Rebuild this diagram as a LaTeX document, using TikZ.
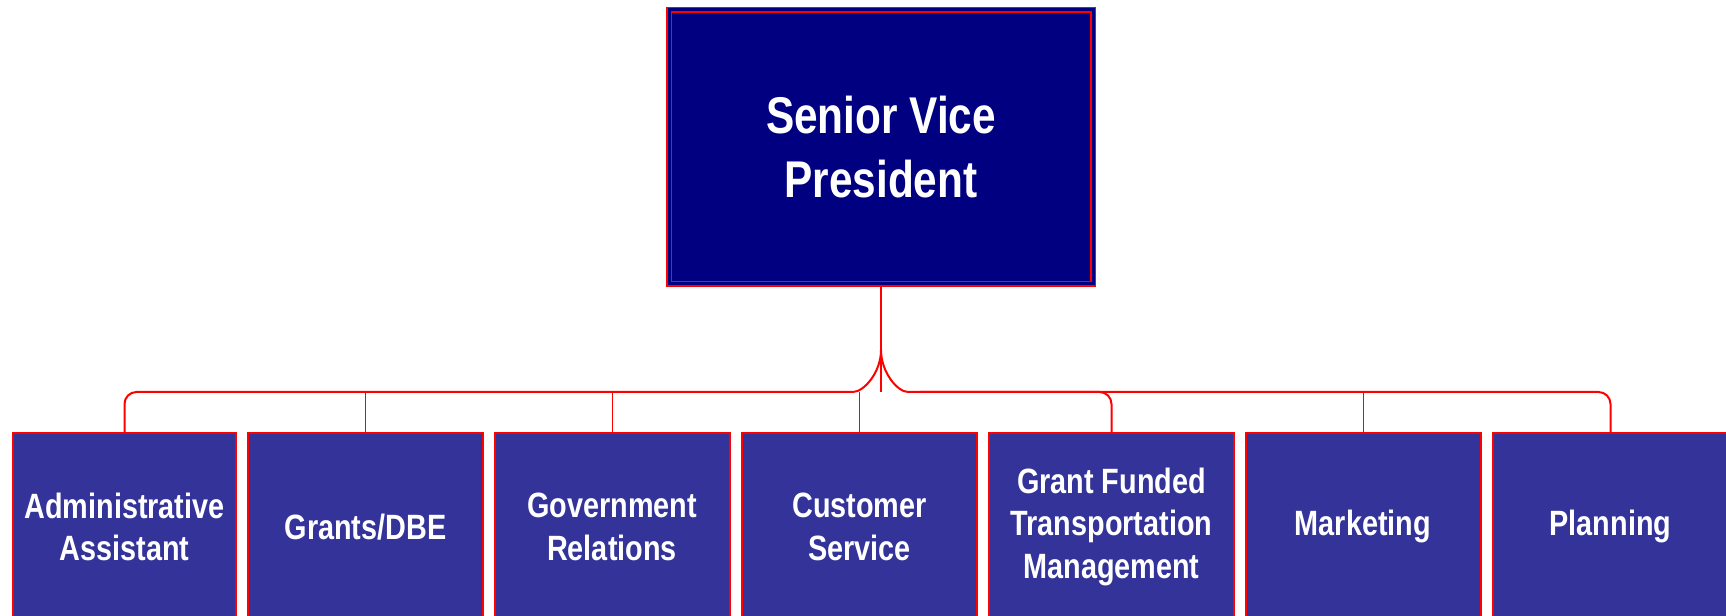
\documentclass[tikz,border=0pt]{standalone}
\usepackage{fontspec}
\setmainfont{Liberation Sans}[FakeStretch=0.82]
\usepackage{tikz}
\usetikzlibrary{positioning}
\definecolor{svpblue}{HTML}{000080}
\definecolor{unitblue}{HTML}{333399}
\tikzset{
	head/.style={draw=red, double=svpblue, double distance=0.03cm, line width=0.015cm,
		fill=svpblue, text=white, align=center, inner sep=0pt,
		minimum width=4.24cm, minimum height=2.74cm,
		font=\fontsize{14.7}{18}\selectfont\bfseries},
	unit/.style={draw=red, line width=0.02cm, fill=unitblue, text=white, align=center,
		inner sep=0pt, minimum width=2.35cm, minimum height=1.88cm,
		font=\fontsize{10}{12.2}\selectfont\bfseries},
	trunk/.style={red, line width=0.02cm, rounded corners=0.12cm},
	twig/.style={red, line width=0.01cm}
}

\begin{document}
\begin{tikzpicture}
	\useasboundingbox (0,0) rectangle (17.26,6.16);
	\clip (0,0) rectangle (17.26,6.16);

	\node[head] (svp) at (8.81, 4.69) {Senior Vice\\President};

	\node[unit, minimum width=2.23cm] (admin) at (1.245, 0.89) {Administrative\\Assistant};
	\node[unit] (grants) at (3.655, 0.89) {Grants/DBE};
	\node[unit] (govt) at (6.12, 0.89) {Government\\Relations};
	\node[unit] (cust) at (8.595, 0.89) {Customer\\Service};
	\node[unit, minimum width=2.45cm] (gft) at (11.115, 0.89) {Grant Funded\\Transportation\\Management};
	\node[unit] (mkt) at (13.63, 0.89) {Marketing};
	\node[unit] (plan) at (16.105, 0.89) {Planning};

	\coordinate (fork) at (8.81, 2.66);
	\coordinate (hub) at (8.81, 2.24);
	\coordinate (lbend) at (8.41, 2.24);
	\coordinate (rbend) at (9.20, 2.24);

	\draw[trunk] (svp.south) -- (hub);
	\draw[trunk] (fork) to[out=-90, in=0] (lbend) -| (admin.north);
	\draw[trunk] (fork) to[out=-90, in=180] (rbend) -| (plan.north);
	\draw[trunk] (rbend) -| (gft.north);
	\foreach \u in {grants, govt, cust, mkt}
		\draw[twig] (\u.north) -- (\u.north |- hub);
\end{tikzpicture}
\end{document}
